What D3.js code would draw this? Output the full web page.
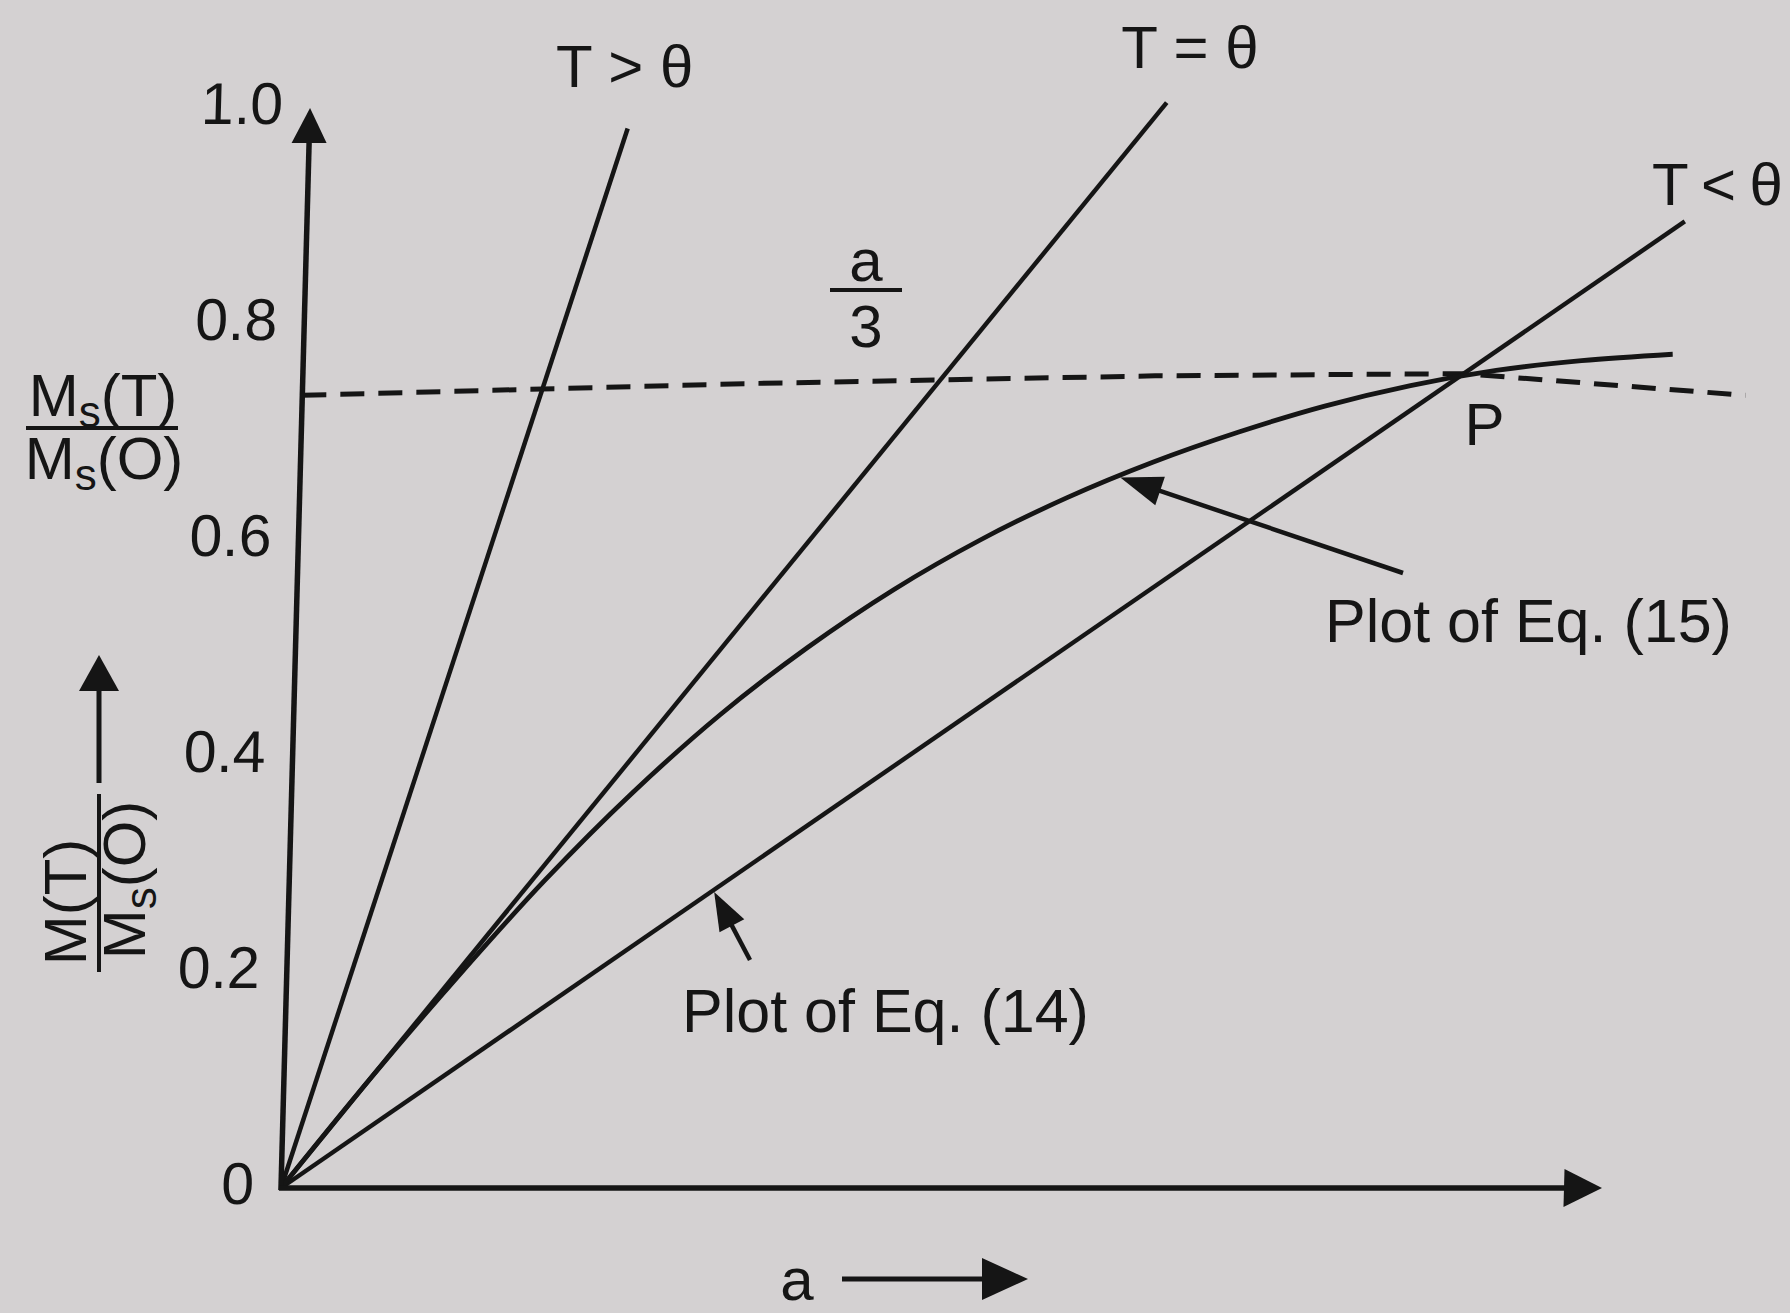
<!DOCTYPE html>
<html>
<head>
<meta charset="utf-8">
<script src="https://cdn.jsdelivr.net/npm/d3@7"></script>
<style>
  html, body { margin: 0; padding: 0; background: #d4d1d2; }
  svg { display: block; }
  text { font-family: "Liberation Sans", Arial, Helvetica, sans-serif; fill: #151515; }
</style>
</head>
<body>
<svg id="chart" width="1790" height="1313"></svg>
<script>
// Reduced magnetisation against a: Weiss straight lines and the Eq. (15) curve

// y-axis ticks
const yTicks = [0, 0.2, 0.4, 0.6, 0.8, 1.0];
const yTickLabels = ["0", "0.2", "0.4", "0.6", "0.8", "1.0"];

// straight lines through the origin, given by their far end point
const lineLabels = ["T > θ", "T = θ", "T < θ"];
const lineEndA = [1.12, 3.015, 4.85];
const lineEndM = [0.981, 1.005, 0.895];

// Eq. (15) curve, M(T)/Ms(O) against a
const curveA = [0, 0.3, 0.6, 0.9, 1.2, 1.5, 1.8, 2.1, 2.4, 2.7, 3.0, 3.3, 3.6, 3.9, 4.2, 4.5, 4.82];
const curveM = [0, 0.100, 0.195, 0.285, 0.366, 0.438, 0.500, 0.554, 0.600, 0.639, 0.672, 0.700, 0.724, 0.743, 0.757, 0.766, 0.772];

// dashed Ms(T)/Ms(O) level
const refA = [0, 1.6, 3.0, 4.085, 5.08];
const refM = [0.734, 0.745, 0.752, 0.754, 0.734];

// intersection P and the points the two pointers touch
const pointP = [4.085, 0.754];
const eq14A = 1.5;   // on the T < θ line
const eq15A = 2.88;  // on the Eq. (15) curve

// ---- layout ----
const W = 1790, H = 1313;
const origin = { x: 281, y: 1188 };
const plotW = 1321, plotH = 1080;
const leanDeg = -1.54;                       // the whole frame leans slightly
const lean = Math.tan(leanDeg * Math.PI / 180);
const ink = "#151515";

const svg = d3.select("#chart");

svg.append("rect").attr("width", W).attr("height", H).attr("fill", "#d4d1d2");

const x = d3.scaleLinear().domain([0, 4.65]).range([0, plotW]);
const y = d3.scaleLinear().domain([0, 1]).range([0, -plotH]);

const toScreen = (a, m) => [origin.x + x(a) + lean * y(m), origin.y + y(m)];

const plot = svg.append("g")
  .attr("transform", `translate(${origin.x},${origin.y}) skewX(${leanDeg})`);

const line = d3.line().x(d => x(d[0])).y(d => y(d[1]));

// dashed level line
plot.append("path")
  .datum(refA.map((a, i) => [a, refM[i]]))
  .attr("d", line)
  .attr("fill", "none")
  .attr("stroke", ink)
  .attr("stroke-width", 5)
  .attr("stroke-dasharray", "24 14");

// straight lines
lineEndA.forEach((a, i) => {
  plot.append("path")
    .datum([[0, 0], [a, lineEndM[i]]])
    .attr("d", line)
    .attr("fill", "none")
    .attr("stroke", ink)
    .attr("stroke-width", 4.5);
});

// Eq. (15) curve
plot.append("path")
  .datum(curveA.map((a, i) => [a, curveM[i]]))
  .attr("d", d3.line().x(d => x(d[0])).y(d => y(d[1])).curve(d3.curveCatmullRom.alpha(0.5)))
  .attr("fill", "none")
  .attr("stroke", ink)
  .attr("stroke-width", 4.8);

// axes with arrow heads
const yTop = y(1.0);
plot.append("line")
  .attr("x1", 0).attr("y1", 2).attr("x2", 0).attr("y2", yTop + 30)
  .attr("stroke", ink).attr("stroke-width", 5.5);
plot.append("path")
  .attr("d", `M0,${yTop} L-17.5,${yTop + 35} L17.5,${yTop + 35} Z`)
  .attr("fill", ink);

const xEnd = x(4.65);
plot.append("line")
  .attr("x1", -2).attr("y1", 0).attr("x2", xEnd - 30).attr("y2", 0)
  .attr("stroke", ink).attr("stroke-width", 5.5);
plot.append("path")
  .attr("d", `M${xEnd},0 L${xEnd - 38},-19 L${xEnd - 38},19 Z`)
  .attr("fill", ink);

// y tick labels
const yAxis = plot.append("g")
  .call(d3.axisLeft(y).tickValues(yTicks)
    .tickFormat((d, i) => yTickLabels[i])
    .tickSize(0).tickPadding(27));
yAxis.select(".domain").remove();
yAxis.selectAll("text")
  .attr("font-family", "Liberation Sans, Arial, sans-serif")
  .attr("font-size", 59)
  .attr("fill", ink)
  .attr("dy", "0.26em");

// ---- annotations ----
const ann = svg.append("g");

function arrow(x1, y1, x2, y2, len, half, w) {
  const dx = x2 - x1, dy = y2 - y1, L = Math.hypot(dx, dy);
  const ux = dx / L, uy = dy / L;
  const bx = x2 - ux * len, by = y2 - uy * len;
  ann.append("line")
    .attr("x1", x1).attr("y1", y1)
    .attr("x2", bx + ux * 4).attr("y2", by + uy * 4)
    .attr("stroke", ink).attr("stroke-width", w);
  ann.append("path")
    .attr("d", `M${x2},${y2} L${bx - uy * half},${by + ux * half} L${bx + uy * half},${by - ux * half} Z`)
    .attr("fill", ink);
}

function label(txt, px, py, size, anchor) {
  return ann.append("text")
    .attr("x", px).attr("y", py)
    .attr("font-size", size)
    .attr("text-anchor", anchor || "start")
    .text(txt);
}

// line labels
label(lineLabels[0], 556, 87, 60);
label(lineLabels[1], 1190, 68, 60, "middle");
label(lineLabels[2], 1652, 205, 60).attr("letter-spacing", -1.6);

// a/3 slope label next to T = θ
label("a", 866, 281, 60, "middle");
ann.append("line").attr("x1", 830).attr("y1", 290).attr("x2", 902).attr("y2", 290)
  .attr("stroke", ink).attr("stroke-width", 4);
label("3", 866, 347, 60, "middle");

// P
const pP = toScreen(pointP[0], pointP[1]);
label("P", pP[0] + 1, pP[1] + 71, 60);

// Eq. (15) pointer
const eq15M = d3.scaleLinear().domain(curveA).range(curveM)(eq15A);
const t15 = toScreen(eq15A, eq15M);
arrow(1403, 573, t15[0] + 2, t15[1] + 1, 42, 15, 4.5);
label("Plot of Eq. (15)", 1325, 642, 61);

// Eq. (14) pointer
const eq14M = lineEndM[2] / lineEndA[2] * eq14A;
const t14 = toScreen(eq14A, eq14M);
arrow(750, 960, t14[0] - 1, t14[1] + 3, 38, 14, 4.5);
label("Plot of Eq. (14)", 682, 1032, 61);

// x-axis title with arrow
label("a", 797, 1300, 60, "middle");
arrow(842, 1279, 1028, 1279, 46, 21, 5);

// Ms(T)/Ms(O) label: M with subscript s, then the bracket
function msFrac(g, cx, base, inner, size, sub) {
  const t = g.append("text")
    .attr("x", cx).attr("y", base)
    .attr("font-size", size)
    .attr("text-anchor", "middle");
  t.append("tspan").text("M");
  t.append("tspan").attr("font-size", sub).attr("dy", 11).text("s");
  t.append("tspan").attr("dy", -11).text(inner);
  return t;
}
msFrac(ann, 103, 416, "(T)", 60, 44);
ann.append("line").attr("x1", 26).attr("y1", 428).attr("x2", 178).attr("y2", 428)
  .attr("stroke", ink).attr("stroke-width", 4);
msFrac(ann, 104, 479, "(O)", 60, 44);

// rotated y-axis title M(T)/Ms(O) with upward arrow
const yt = svg.append("g").attr("transform", "translate(99,882) rotate(-90)");
yt.append("text")
  .attr("x", -20).attr("y", -13)
  .attr("font-size", 60)
  .attr("text-anchor", "middle")
  .text("M(T)");
yt.append("line").attr("x1", -90).attr("y1", 0).attr("x2", 88).attr("y2", 0)
  .attr("stroke", ink).attr("stroke-width", 4);
msFrac(yt, 2, 46, "(O)", 60, 44);
arrow(99, 783, 99, 655, 36, 20, 5);
</script>
</body>
</html>
